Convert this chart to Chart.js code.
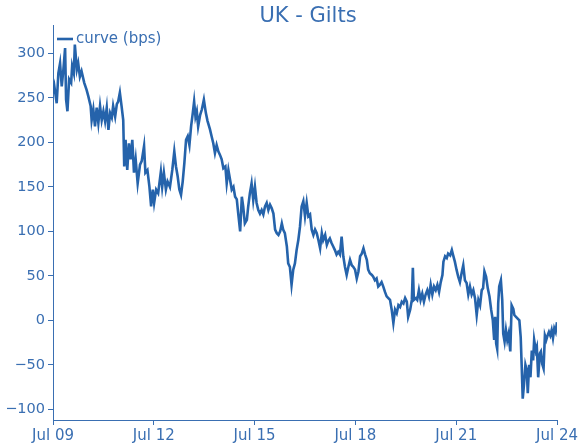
<!DOCTYPE html>
<html>
<head>
<meta charset="utf-8">
<script src="https://cdn.jsdelivr.net/npm/chart.js@4.4.1/dist/chart.umd.min.js"></script>
<style>
  body { margin: 0; background: #fff; }
  canvas { display: block; }
</style>
</head>
<body>
<canvas id="chart" width="580" height="446"></canvas>
<script>
// dates as decimal years (Jul 09 = 2009.5)
const years = [
  2009.50, 2009.54, 2009.61, 2009.66, 2009.71, 2009.76, 2009.81, 2009.86, 2009.89, 2009.93,
  2009.98, 2010.04, 2010.07, 2010.12, 2010.15, 2010.21, 2010.25, 2010.30, 2010.35, 2010.43,
  2010.50, 2010.55, 2010.62, 2010.65, 2010.70, 2010.75, 2010.80, 2010.85, 2010.90, 2010.95,
  2011.00, 2011.05, 2011.10, 2011.15, 2011.20, 2011.25, 2011.29, 2011.35, 2011.40, 2011.44,
  2011.49, 2011.54, 2011.59, 2011.62, 2011.66, 2011.71, 2011.76, 2011.81, 2011.86, 2011.91,
  2011.96, 2012.02, 2012.09, 2012.14, 2012.21, 2012.25, 2012.31, 2012.37, 2012.42, 2012.47,
  2012.51, 2012.57, 2012.63, 2012.71, 2012.75, 2012.80, 2012.86, 2012.91, 2012.98, 2013.05,
  2013.11, 2013.16, 2013.21, 2013.26, 2013.31, 2013.36, 2013.41, 2013.46, 2013.51, 2013.56,
  2013.61, 2013.66, 2013.70, 2013.74, 2013.78, 2013.82, 2013.88, 2013.93, 2013.99, 2014.05,
  2014.10, 2014.17, 2014.22, 2014.27, 2014.32, 2014.37, 2014.42, 2014.47, 2014.52, 2014.57, 2014.63,
  2014.67, 2014.72, 2014.77, 2014.82, 2014.87, 2014.92, 2014.97, 2015.01, 2015.07, 2015.12,
  2015.16, 2015.21, 2015.27, 2015.31, 2015.36, 2015.41, 2015.46, 2015.51, 2015.56, 2015.61,
  2015.66, 2015.71, 2015.76, 2015.81, 2015.86, 2015.91, 2015.96, 2016.01, 2016.06, 2016.11,
  2016.16, 2016.21, 2016.26, 2016.31, 2016.35, 2016.40, 2016.46, 2016.50, 2016.55, 2016.60,
  2016.65, 2016.70, 2016.75, 2016.80, 2016.85, 2016.90, 2016.95, 2017.00, 2017.05, 2017.10,
  2017.15, 2017.20, 2017.25, 2017.30, 2017.35, 2017.40, 2017.45, 2017.50, 2017.54, 2017.60,
  2017.65, 2017.69, 2017.74, 2017.79, 2017.84, 2017.89, 2017.94, 2017.99, 2018.04, 2018.09,
  2018.14, 2018.19, 2018.24, 2018.29, 2018.34, 2018.39, 2018.44, 2018.49, 2018.54, 2018.59,
  2018.64, 2018.69, 2018.74, 2018.79, 2018.84, 2018.88, 2018.93, 2018.99, 2019.03, 2019.08,
  2019.13, 2019.18, 2019.23, 2019.28, 2019.33, 2019.38, 2019.43, 2019.48, 2019.53, 2019.58,
  2019.63, 2019.68, 2019.73, 2019.78, 2019.83, 2019.88, 2019.93, 2019.98, 2020.03, 2020.07,
  2020.13, 2020.18, 2020.21, 2020.24, 2020.30, 2020.34, 2020.39, 2020.44, 2020.49, 2020.54,
  2020.59, 2020.64, 2020.69, 2020.74, 2020.79, 2020.84, 2020.89, 2020.94, 2020.99, 2021.04,
  2021.09, 2021.12, 2021.17, 2021.22, 2021.26, 2021.32, 2021.37, 2021.41, 2021.46, 2021.51,
  2021.56, 2021.61, 2021.66, 2021.71, 2021.76, 2021.81, 2021.86, 2021.91, 2021.96, 2022.01,
  2022.06, 2022.11, 2022.16, 2022.21, 2022.26, 2022.30, 2022.34, 2022.39, 2022.44, 2022.49,
  2022.54, 2022.59, 2022.63, 2022.66, 2022.69, 2022.72, 2022.75, 2022.78, 2022.83, 2022.87,
  2022.90, 2022.94, 2022.98, 2023.02, 2023.06, 2023.11, 2023.15, 2023.20, 2023.23, 2023.28,
  2023.33, 2023.38, 2023.42, 2023.45, 2023.48, 2023.52, 2023.56, 2023.60, 2023.63, 2023.67,
  2023.71, 2023.75, 2023.79, 2023.82, 2023.87, 2023.90, 2023.94, 2023.99, 2024.02, 2024.06,
  2024.10, 2024.14, 2024.18, 2024.22, 2024.26, 2024.30, 2024.34, 2024.38, 2024.42, 2024.46,
  2024.50
];

// curve in bps
const curve = [
  255, 263, 244, 278, 289, 263, 282, 306, 248, 235,
  271, 267, 286, 278, 310, 282, 289, 274, 280, 267,
  259, 252, 241, 225, 237, 218, 239, 222, 241, 225,
  235, 224, 239, 214, 233, 228, 241, 229, 243, 246,
  256, 241, 225, 173, 203, 169, 199, 181, 203, 166,
  181, 154, 175, 179, 196, 166, 169, 150, 128, 147,
  132, 147, 143, 167, 150, 166, 147, 156, 150, 169,
  190, 173, 162, 147, 141, 156, 177, 203, 207, 197,
  218, 233, 246, 229, 235, 218, 231, 237, 248, 233,
  224, 215, 207, 199, 188, 197, 190, 186, 181, 171, 173,
  154, 169, 158, 147, 150, 139, 136, 121, 100, 139,
  128, 109, 113, 128, 143, 154, 135, 150, 132, 124,
  120, 124, 119, 128, 132, 124, 130, 126, 120, 102,
  98, 96, 100, 109, 102, 98, 83, 64, 60, 40,
  57, 64, 79, 90, 105, 128, 134, 117, 132, 117,
  119, 102, 96, 102, 98, 90, 81, 98, 90, 96,
  85, 89, 92, 87, 83, 79, 74, 77, 74, 94,
  72, 60, 51, 60, 68, 62, 60, 57, 47, 55,
  72, 75, 81, 74, 68, 57, 53, 51, 49, 45,
  47, 38, 40, 43, 38, 32, 27, 25, 23, 12,
  -3, 12, 8, 17, 15, 21, 19, 25, 21, 4,
  12, 23, 59, 23, 25, 23, 34, 23, 30, 21,
  29, 34, 27, 40, 29, 38, 34, 40, 32, 43,
  51, 66, 72, 70, 75, 73, 79, 73, 66, 57,
  49, 43, 53, 62, 45, 42, 29, 38, 29, 34,
  25, 6, 23, 17, 34, 36, 55, 49, 36, 27,
  12, 0, -22, 4, -26, -32, 19, 38, 45, 23,
  -15, -24, -11, -22, -15, -35, 17, 13, 6, 4,
  2, 0, -19, -52, -88, -71, -50, -56, -82, -50,
  -64, -34, -45, -22, -34, -30, -64, -37, -35, -49,
  -54, -17, -22, -17, -13, -17, -11, -20, -9, -13,
  -2
];

const xTicks = [2009.5, 2012.5, 2015.5, 2018.5, 2021.5, 2024.5];
const xTickLabels = ["Jul 09", "Jul 12", "Jul 15", "Jul 18", "Jul 21", "Jul 24"];
const yTicks = [-100, -50, 0, 50, 100, 150, 200, 250, 300];

const lineColor = "#2563ab";
const textColor = "#3a6fb2";
const fontFamily = "'DejaVu Sans', Verdana, sans-serif";

const titleAndLegend = {
  id: "titleAndLegend",
  afterDraw(chart) {
    const c = chart.ctx;
    const area = chart.chartArea;
    c.save();
    c.fillStyle = textColor;
    c.font = "21px " + fontFamily;
    c.textAlign = "center";
    c.textBaseline = "middle";
    c.fillText("UK - Gilts", (area.left + area.right) / 2 + 3, 17);

    // legend inside plot, top-left
    c.strokeStyle = lineColor;
    c.lineWidth = 2.6;
    c.beginPath();
    c.moveTo(area.left + 4, area.top + 14);
    c.lineTo(area.left + 20, area.top + 14);
    c.stroke();
    c.font = "15px " + fontFamily;
    c.textAlign = "left";
    c.fillText("curve (bps)", area.left + 23, area.top + 14);
    c.restore();
  }
};

const ctx = document.getElementById("chart").getContext("2d");
new Chart(ctx, {
  type: "line",
  data: {
    datasets: [
      {
        label: "curve (bps)",
        data: years.map((y, i) => ({ x: y, y: curve[i] })),
        borderColor: lineColor,
        borderWidth: 2.6,
        pointRadius: 0,
        tension: 0,
        fill: false,
      },
    ],
  },
  options: {
    responsive: false,
    animation: false,
    devicePixelRatio: 1,
    layout: { padding: { top: 25, right: 23, left: 0, bottom: 0 } },
    plugins: {
      legend: { display: false },
      title: { display: false },
      tooltip: { enabled: false },
    },
    scales: {
      x: {
        type: "linear",
        min: 2009.5,
        max: 2024.5,
        afterBuildTicks: (s) => { s.ticks = xTicks.map((v) => ({ value: v })); },
        afterFit: (s) => { s.height = 26; },
        grid: { drawOnChartArea: false, tickLength: 5, color: textColor },
        border: { display: true, color: textColor, width: 1 },
        ticks: {
          color: textColor,
          font: { family: fontFamily, size: 15 },
          padding: 2,
          maxRotation: 0,
          callback: (v) => xTickLabels[xTicks.indexOf(v)],
        },
      },
      y: {
        min: -112,
        max: 332,
        afterBuildTicks: (s) => { s.ticks = yTicks.map((v) => ({ value: v })); },
        afterFit: (s) => { s.width = 53; },
        grid: { drawOnChartArea: false, tickLength: 5, color: textColor },
        border: { display: true, color: textColor, width: 1 },
        ticks: {
          color: textColor,
          font: { family: fontFamily, size: 14.5 },
          padding: 3,
          callback: (v) => (v < 0 ? "\u2212" + Math.abs(v) : String(v)),
        },
      },
    },
  },
  plugins: [titleAndLegend],
});
</script>
</body>
</html>
